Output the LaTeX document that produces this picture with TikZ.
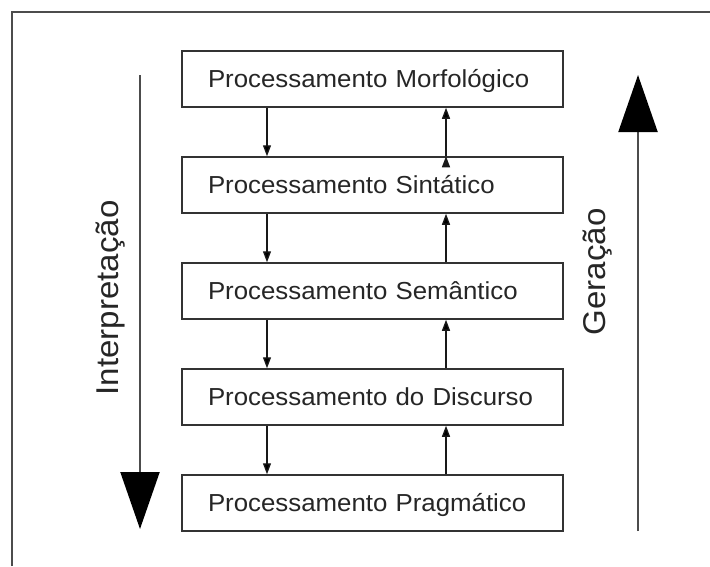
\documentclass[tikz,border=0pt]{standalone}
\usepackage{fontspec}
\setmainfont[FakeStretch=1.05]{Liberation Sans}
\usetikzlibrary{positioning, arrows.meta}
\tikzset{
    camada/.style={draw=black!80, line width=1.5pt, text width=329pt, align=left,
        minimum height=56pt, inner xsep=26pt, inner ysep=0pt,
        text height=17.6pt, text depth=0pt, text=black!85,
        font=\fontsize{24.6}{28}\selectfont}, % caixa de cada nivel
    rotulo/.style={rotate=90, inner sep=0pt, text height=22pt, text depth=0pt, text=black!85,
        font=\fontsize{31.5}{36}\selectfont}, % texto ao lado das setas grandes
}
\tikzstyle{arrow} = [line width=1.3pt, draw=black!90, -{Triangle[length=11pt, width=8pt]}]
\tikzstyle{grande} = [line width=2pt, draw=black!70, -{Triangle[length=57pt, width=39pt, color=black]}]

\begin{document}
\begin{tikzpicture}[x=1pt, y=-1pt, node distance=106pt, on grid]
    \useasboundingbox (0,0) rectangle (710,566);
    % Moldura
    \draw[black!70, line width=2pt] (12,566) -- (12,12) -- (710,12);

    % Niveis
    \node[camada] (morf) at (372.5,79) {Processamento Morfológico};
    \node[camada] (sint) [below=of morf] {Processamento Sintático};
    \node[camada] (sem) [below=of sint] {Processamento Semântico};
    \node[camada] (disc) [below=of sem] {Processamento do Discurso};
    \node[camada] (prag) [below=of disc] {Processamento Pragmático};

    % Setas entre niveis
    \path[arrow]
    ([xshift=-105.5pt]morf.south) edge ([xshift=-105.5pt]sint.north)
    ([xshift=-105.5pt]sint.south) edge ([xshift=-105.5pt]sem.north)
    ([xshift=-105.5pt]sem.south) edge ([xshift=-105.5pt]disc.north)
    ([xshift=-105.5pt]disc.south) edge ([xshift=-105.5pt]prag.north)
    ([xshift=73.5pt]prag.north) edge ([xshift=73.5pt]disc.south)
    ([xshift=73.5pt]disc.north) edge ([xshift=73.5pt]sem.south)
    ([xshift=73.5pt]sem.north) edge ([xshift=73.5pt]sint.south)
    ([xshift=73.5pt]sint.north) edge ([xshift=73.5pt]morf.south);

    % Setas grandes
    \coordinate (interp ini) at (140,75);
    \coordinate (interp fim) at (140,529);
    \coordinate (ger ini) at (638,531);
    \coordinate (ger fim) at (638,75);
    \draw[grande] (interp ini) -- (interp fim);
    \draw[grande] (ger ini) -- (ger fim);

    \node[rotulo] (interp) at (107,298) {Interpretação};
    \node[rotulo] (ger) at (594,272) {Geração};
\end{tikzpicture}
\end{document}
